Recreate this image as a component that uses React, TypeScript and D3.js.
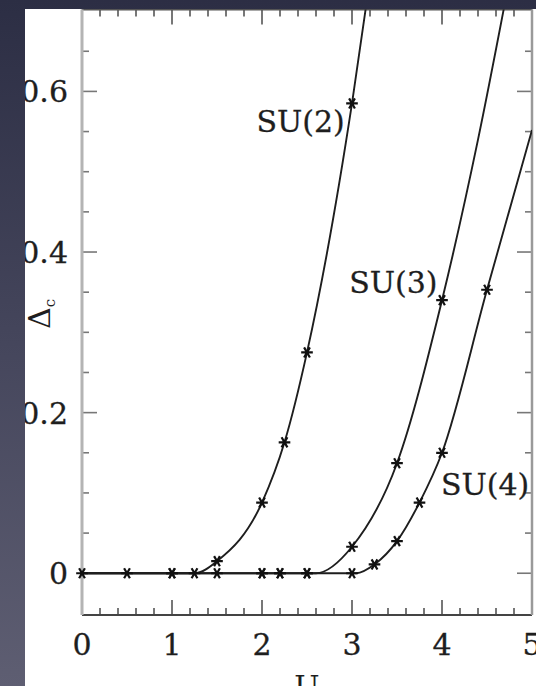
import React from "react";
import * as d3 from "d3";

// ---- data ----
const xTicks = [0, 1, 2, 3, 4, 5];
const yTicks = [0, 0.2, 0.4, 0.6];
const yTickLabels = ["0", "0.2", "0.4", "0.6"];

const seriesNames = ["SU(2)", "SU(3)", "SU(4)"];

// measured points (asterisk markers)
const su2U = [0, 0.5, 1.0, 1.25, 1.5, 2.0, 2.25, 2.5, 3.0];
const su2D = [0, 0, 0, 0, 0.015, 0.088, 0.163, 0.275, 0.585];
const su3U = [1.0, 1.5, 2.0, 2.2, 2.5, 3.0, 3.5, 4.0];
const su3D = [0, 0, 0, 0, 0, 0.033, 0.137, 0.34];
const su4U = [2.0, 2.2, 2.5, 3.0, 3.25, 3.5, 3.75, 4.0, 4.5];
const su4D = [0, 0, 0, 0, 0.011, 0.04, 0.088, 0.15, 0.353];

// fitted curves (as traced in the picture)
const su2CurveU = [0, 1.25, 1.5, 2.0, 2.25, 2.5, 3.0, 3.2];
const su2CurveD = [0, 0, 0.015, 0.088, 0.163, 0.275, 0.585, 0.74];
const su3CurveU = [0, 2.6, 3.0, 3.5, 4.0, 4.4, 4.75];
const su3CurveD = [0, 0, 0.033, 0.137, 0.34, 0.54, 0.74];
const su4CurveU = [0, 3.05, 3.25, 3.5, 3.75, 4.0, 4.5, 5.0];
const su4CurveD = [0, 0, 0.011, 0.04, 0.088, 0.15, 0.353, 0.552];

// label anchor (end of text) in data coordinates
const labelU = [2.92, 3.95, 4.97];
const labelD = [0.549, 0.349, 0.097];

const W = 536;
const H = 686;

export default function App() {
  const x = d3.scaleLinear().domain([0, 5]).range([82, 532]);
  const y = d3.scaleLinear().domain([-0.052, 0.702]).range([615, 9.5]);

  const markerU = [su2U, su3U, su4U];
  const markerD = [su2D, su3D, su4D];
  const curveU = [su2CurveU, su3CurveU, su4CurveU];
  const curveD = [su2CurveD, su3CurveD, su4CurveD];

  const line = d3
    .line<[number, number]>()
    .x((d) => x(d[0]))
    .y((d) => y(d[1]))
    .curve(d3.curveMonotoneX);

  const sym = d3.symbol().type(d3.symbolAsterisk).size(95);

  const xMinor = d3.range(0, 5.0001, 0.2);
  const yMinor = d3.range(0, 0.6801, 0.05);
  const isMajorX = (v: number) => Math.abs(v - Math.round(v)) < 1e-6;
  const isMajorY = (v: number) => Math.abs(v / 0.2 - Math.round(v / 0.2)) < 1e-6;

  const x0 = x(0);
  const x1 = x(5);
  const yb = y(-0.052);
  const yt = y(0.702);

  const font = "'DejaVu Serif', 'Liberation Serif', serif";
  const ink = "#1e1e1e";

  return (
    <svg
      width={W}
      height={H}
      style={{ position: "absolute", left: 0, top: 0, display: "block" }}
    >
      <defs>
        <linearGradient id="bg" x1="0" y1="0" x2="0" y2="1">
          <stop offset="0" stopColor="#2c2e44" />
          <stop offset="0.5" stopColor="#45465c" />
          <stop offset="1" stopColor="#5e5e72" />
        </linearGradient>
        <clipPath id="paper">
          <rect x={25} y={9} width={W - 25} height={H - 9} />
        </clipPath>
        <clipPath id="plot">
          <rect x={x0} y={yt} width={x1 - x0} height={yb - yt} />
        </clipPath>
      </defs>
      <rect x={0} y={0} width={W} height={H} fill="url(#bg)" />
      <g clipPath="url(#paper)">
        <rect x={25} y={9} width={W - 25} height={H - 9} fill="#ffffff" />

        {/* ticks bottom & top */}
        {xMinor.map((v, i) => {
          const L = isMajorX(v) ? 15 : 7;
          return (
            <g key={"xt" + i}>
              <line x1={x(v)} x2={x(v)} y1={yb} y2={yb - L} stroke="#555" strokeWidth={1.6} />
              <line x1={x(v)} x2={x(v)} y1={yt} y2={yt + L} stroke="#555" strokeWidth={1.6} />
            </g>
          );
        })}
        {/* ticks left & right */}
        {yMinor.map((v, i) => {
          const L = isMajorY(v) ? 15 : 7;
          return (
            <g key={"yt" + i}>
              <line x1={x0} x2={x0 + L} y1={y(v)} y2={y(v)} stroke="#777" strokeWidth={1.6} />
              <line x1={x1} x2={x1 - L} y1={y(v)} y2={y(v)} stroke="#777" strokeWidth={1.6} />
            </g>
          );
        })}

        {/* frame */}
        <line x1={x0} x2={x1} y1={yb} y2={yb} stroke="#444" strokeWidth={2} />
        <line x1={x0} x2={x1} y1={yt} y2={yt} stroke="#555" strokeWidth={2} />
        <line x1={x0} x2={x0} y1={yt} y2={yb} stroke="#b4b4b4" strokeWidth={3} />
        <line x1={x1} x2={x1} y1={yt} y2={yb} stroke="#9a9a9a" strokeWidth={2.5} />

        {/* curves */}
        <g clipPath="url(#plot)">
          {curveU.map((us, si) => (
            <path
              key={"c" + si}
              d={line(us.map((u, j) => [u, curveD[si][j]] as [number, number])) || ""}
              fill="none"
              stroke="#1e1e1e"
              strokeWidth={1.9}
            />
          ))}
        </g>

        {/* markers */}
        {markerU.map((us, si) =>
          us.map((u, j) => (
            <path
              key={"m" + si + "-" + j}
              d={sym() || ""}
              transform={`translate(${x(u)},${y(markerD[si][j])}) rotate(30)`}
              fill="none"
              stroke="#111"
              strokeWidth={2.2}
            />
          ))
        )}

        {/* series labels */}
        {seriesNames.map((n, i) => (
          <text
            key={"l" + i}
            x={x(labelU[i])}
            y={y(labelD[i])}
            textAnchor="end"
            fontFamily={font}
            fontSize={30}
            fill={ink}
            stroke={ink}
            strokeWidth={0.3}
          >
            {n}
          </text>
        ))}

        {/* tick labels */}
        {xTicks.map((v, i) => (
          <text
            key={"xl" + i}
            x={x(v)}
            y={655}
            textAnchor="middle"
            fontFamily={font}
            fontSize={30}
            fill={ink}
            stroke={ink}
            strokeWidth={0.3}
          >
            {v}
          </text>
        ))}
        {yTicks.map((v, i) => (
          <text
            key={"yl" + i}
            x={68}
            y={y(v) + 11}
            textAnchor="end"
            fontFamily={font}
            fontSize={30}
            fill={ink}
            stroke={ink}
            strokeWidth={0.3}
          >
            {yTickLabels[i]}
          </text>
        ))}

        {/* axis titles */}
        <text
          x={x(2.5)}
          y={697}
          textAnchor="middle"
          fontFamily={font}
          fontSize={30}
          fill={ink}
        >
          U
        </text>
        <text
          transform="translate(50,329) rotate(-90)"
          fontFamily={font}
          fontSize={30}
          fill={ink}
        >
          Δ
          <tspan fontSize={15} dy={5}>
            c
          </tspan>
        </text>
      </g>
    </svg>
  );
}
